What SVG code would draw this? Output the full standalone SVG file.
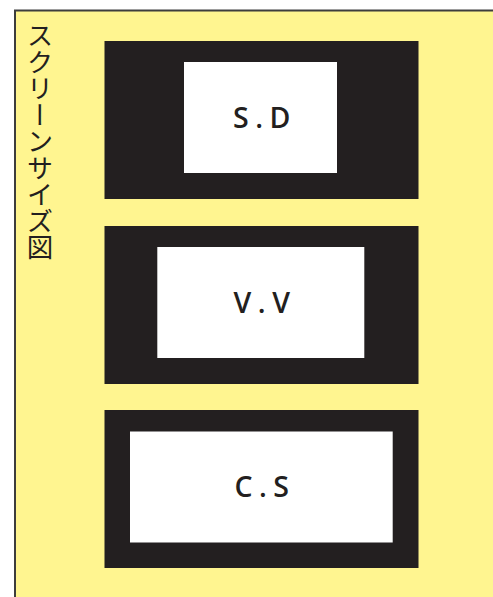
<svg xmlns="http://www.w3.org/2000/svg" width="493" height="597" viewBox="0 0 493 597">
<style>
.frame{fill:#231f20}
.screen{fill:#ffffff}
.lbl{font-family:"Open Sans","Noto Sans",sans-serif;font-size:28.5px;font-weight:600;fill:#231f20;text-anchor:middle;letter-spacing:6.5px}
.title{font-family:"Noto Sans CJK JP",sans-serif;font-size:26.5px;fill:#231f20;writing-mode:vertical-rl}
</style>
<rect x="0" y="0" width="493" height="597" fill="#ffffff"/>
<g id="background">
<rect x="15" y="10.5" width="480" height="590" fill="#fff590" stroke="#3d3d3d" stroke-width="2"/>
</g>
<g id="title">
<text class="title" x="40" y="22">スクリーンサイズ図</text>
</g>
<g id="sd">
<rect class="frame" x="104.5" y="41" width="314" height="158"/>
<rect class="screen" x="184" y="62" width="153" height="111"/>
<text class="lbl" x="265" y="128">S.D</text>
</g>
<g id="vv">
<rect class="frame" x="104.5" y="226" width="314" height="158"/>
<rect class="screen" x="157.3" y="247" width="207" height="111"/>
<text class="lbl" x="265" y="313">V.V</text>
</g>
<g id="cs">
<rect class="frame" x="104.5" y="410" width="314" height="158"/>
<rect class="screen" x="130" y="431.5" width="262.7" height="111"/>
<text class="lbl" x="265" y="497">C.S</text>
</g>
<g id="connectors"></g>
</svg>
